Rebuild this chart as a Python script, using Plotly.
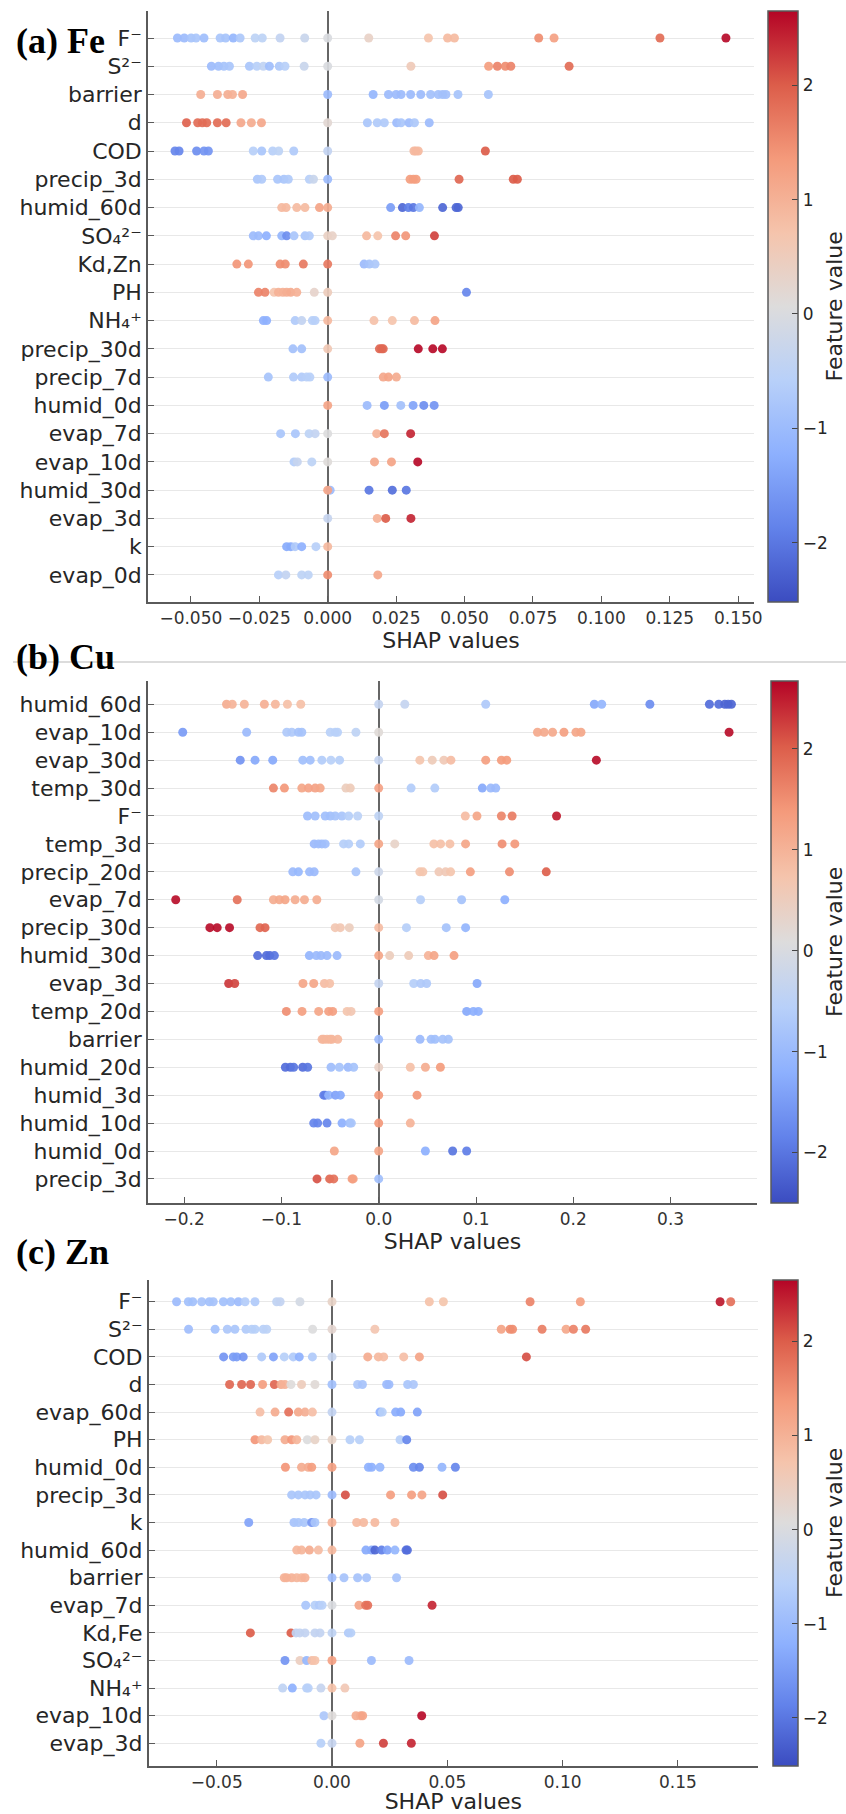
import plotly.graph_objects as go

fe_features = ["F⁻", "S²⁻", "barrier", "d", "COD", "precip_3d", "humid_60d", "SO₄²⁻", "Kd,Zn", "PH", "NH₄⁺",
               "precip_30d", "precip_7d", "humid_0d", "evap_7d", "evap_10d", "humid_30d", "evap_3d", "k", "evap_0d"]
fe_shap = [
    [-.0549,-.0524,-.0499,-.0481,-.0452,-.0393,-.0373,-.0345,-.0320,-.0265,-.0239,-.0174,-.0084,0,.0150,.0368,.0438,.0463,.0771,.0827,.1214,.1455],
    [-.0425,-.0399,-.0379,-.0359,-.0286,-.0259,-.0235,-.0213,-.0177,-.0156,-.0086,0,.0304,.0588,.0620,.0649,.0669,.0882],
    [-.0464,-.0403,-.0365,-.0348,-.0311,0,.0166,.0222,.0250,.0268,.0303,.0340,.0376,.0404,.0420,.0432,.0476,.0587],
    [-.0516,-.0475,-.0458,-.0442,-.0403,-.0371,-.0317,-.0279,-.0242,0,.0145,.0181,.0207,.0252,.0268,.0297,.0317,.0371],
    [-.0558,-.0543,-.0479,-.0452,-.0436,-.0272,-.0241,-.0201,-.0179,-.0124,0,.0315,.0322,.0331,.0576],
    [-.0257,-.0241,-.0183,-.0160,-.0144,-.0067,-.0052,0,.0301,.0313,.0323,.0480,.0678,.0693],
    [-.0168,-.0152,-.0113,-.0083,-.0030,0,.0230,.0273,.0295,.0313,.0335,.0420,.0469,.0477],
    [-.0272,-.0253,-.0224,-.0168,-.0150,-.0123,-.0083,-.0067,0,.0017,.0142,.0183,.0248,.0285,.0390],
    [-.0332,-.0290,-.0174,-.0155,-.0089,0,.0133,.0152,.0173],
    [-.0253,-.0229,-.0196,-.0180,-.0164,-.0150,-.0135,-.0113,-.0049,0,.0507],
    [-.0235,-.0223,-.0119,-.0095,-.0056,-.0046,0,.0169,.0236,.0317,.0392],
    [-.0127,-.0095,0,.0189,.0197,.0203,.0331,.0384,.0419],
    [-.0217,-.0125,-.0095,-.0077,-.0065,0,.0203,.0222,.0251],
    [0,.0144,.0207,.0267,.0312,.0351,.0389],
    [-.0172,-.0118,-.0068,-.0046,0,.0179,.0207,.0303],
    [-.0123,-.0111,-.0058,0,.0171,.0233,.0329],
    [.0009,0,.0151,.0236,.0287],
    [0,.0181,.0212,.0304],
    [-.0150,-.0135,-.0119,-.0095,-.0043,0],
    [-.0180,-.0153,-.0095,-.0071,0,.0183],
]
fe_value = [
    [-1,-1,-.85,-.8,-.95,-.8,-.85,-1.1,-.75,-.5,-.5,-.4,-.3,0,.35,.7,.85,.85,1.5,1.25,1.85,2.6],
    [-1,-.95,-.85,-.8,-.8,-.6,-.45,-.95,-.75,-.6,-.3,0,.55,1.3,1.6,1.5,1.6,1.85],
    [1.05,1.05,1.05,1,1.15,-1,-1.1,-1,-1,-1,-1,-1,-.9,-.9,-.9,-.9,-.85,-.85],
    [1.95,1.85,1.85,1.85,1.85,1.85,1.15,1.1,1.15,.2,-.8,-.7,-.7,-1,-.8,-1,-.75,-1],
    [-1.8,-1.8,-1.7,-1.6,-1.6,-.6,-.8,-.6,-.5,-.7,-.4,.9,.9,.9,2],
    [-.8,-.7,-.8,-.8,-.7,-.6,-.3,-1,1.3,1.3,1.3,1.9,2,2],
    [.9,.9,.85,.85,1.2,1.1,-1.5,-2.2,-1.9,-2,-1.1,-2.2,-2.2,-2.2],
    [-1,-1,-1.2,-1.1,-1.7,-.8,-.8,-.7,.4,.35,.9,.7,1.6,1.4,2.2],
    [1.4,1.4,1.5,1.5,1.7,1.7,-1,-.85,-.75],
    [1.6,1.6,.7,1,1,1.05,1.1,1,.3,.5,-1.8],
    [-1.2,-1.2,-.7,-.4,-.6,-.6,.9,.75,.7,.85,1.2],
    [-.9,-.9,.6,1.9,1.9,1.9,2.6,2.6,2.6],
    [-.85,-.7,-.7,-.6,-.6,-1,1.15,1.2,1.1],
    [1.2,-1,-1.5,-.9,-1.4,-1.7,-1.6],
    [-.8,-.8,-.5,-.4,.05,1,1.75,2.4],
    [-.65,-.35,-.5,.1,1.15,1.2,2.6],
    [-1,1.2,-2,-2.1,-2],
    [-.35,1,2,2.4],
    [-1.3,-1.3,-.7,-1.2,-.6,.9],
    [-.6,-.4,-.5,-.5,1.5,1.15],
]

cu_features = ["humid_60d", "evap_10d", "evap_30d", "temp_30d", "F⁻", "temp_3d", "precip_20d", "evap_7d", "precip_30d",
               "humid_30d", "evap_3d", "temp_20d", "barrier", "humid_20d", "humid_3d", "humid_10d", "humid_0d", "precip_3d"]
cu_shap = [
    [-.1564,-.1505,-.1381,-.1175,-.1062,-.0938,-.0801,0,.0268,.1100,.2216,.2292,.2787,.3399,.3495,.3557,.3591,.3625],
    [-.2014,-.1357,-.0945,-.0893,-.0825,-.0790,-.0498,-.0447,-.0423,-.0234,0,.1632,.1701,.1787,.1904,.2027,.2079,.3601],
    [-.1423,-.1271,-.1089,-.0780,-.0704,-.0584,-.0491,-.0402,0,.0423,.0550,.0670,.0742,.1100,.1261,.1316,.2237],
    [-.1082,-.0969,-.0790,-.0722,-.0653,-.0601,-.0337,-.0292,0,.0333,.0577,.1065,.1151,.1203],
    [-.0732,-.0653,-.0550,-.0498,-.0447,-.0378,-.0309,-.0216,0,.0890,.1010,.1261,.1371,.1828],
    [-.0663,-.0619,-.0584,-.0550,-.0361,-.0309,-.0189,0,.0165,.0567,.0636,.0732,.0893,.1268,.1399],
    [-.0883,-.0825,-.0711,-.0663,-.0234,0,.0423,.0454,.0619,.0687,.0739,.0942,.1344,.1722],
    [-.2086,-.1454,-.1082,-.1021,-.0962,-.0859,-.0763,-.0636,0,.0430,.0852,.1296],
    [-.1735,-.1660,-.1533,-.1220,-.1168,-.0447,-.0395,-.0302,0,.0285,.0694,.0893],
    [-.1244,-.1154,-.1120,-.1072,-.0713,-.0641,-.0593,-.0531,-.0428,0,.0113,.0308,.0510,.0569,.0774],
    [-.1542,-.1480,-.0778,-.0668,-.0558,-.0504,0,.0360,.0432,.0493,.1011],
    [-.0949,-.0788,-.0617,-.0514,-.0473,-.0325,-.0284,0,.0904,.0973,.1024],
    [-.0582,-.0565,-.0531,-.0500,-.0480,-.0421,0,.0425,.0538,.0579,.0658,.0716],
    [-.0959,-.0908,-.0874,-.0781,-.0730,-.0490,-.0404,-.0315,-.0257,0,.0325,.0480,.0634],
    [-.0565,-.0548,-.0514,-.0445,-.0394,0,.0394],
    [-.0668,-.0627,-.0531,-.0377,-.0298,-.0281,0,.0325],
    [-.0456,0,.0480,.0760,.0904],
    [-.0634,-.0504,-.0462,-.0274,-.0262,0],
]
cu_value = [
    [1.1,1,1,1.05,.95,.8,.8,-.35,-.35,-.7,-1.3,-1.1,-1.7,-2.1,-2.1,-2.2,-2.2,-2.2],
    [-1.5,-1,-.7,-.7,-.85,-.85,-.55,-.55,-.55,-.45,.15,1.15,1.15,1.15,1.3,1.2,1.2,2.6],
    [-1.6,-1.3,-1.3,-.9,-.9,-.65,-.55,-.6,-.35,.7,.55,.6,.85,1.3,1.35,1.35,2.6],
    [1.6,1.4,1.2,1.25,1.25,1.2,.5,.55,1.25,-.65,-.65,-1.3,-1,-1],
    [-.95,-.9,-.9,-.9,-.85,-.8,-.6,-.5,-.45,.85,1.2,1.6,1.7,2.5],
    [-1,-.95,-.95,-.9,-.6,-.6,-.65,1.2,.35,.8,.8,.8,1.2,1.5,1.4],
    [-1,-1.05,-1,-1,-.8,-.2,.7,.7,.6,.6,.7,1.3,1.5,2],
    [2.6,1.8,1.1,1.15,1.2,1.1,1.1,1.1,-.1,-.6,-.85,-1.2],
    [2.6,2.6,2.6,1.9,1.95,.65,.65,.5,.85,-.6,-.85,-1.1],
    [-2.1,-2.1,-2.1,-2,-1.1,-1,-1,-1,-1,1.2,.5,.55,1,1.2,1.3],
    [2.3,2.2,1.2,1.2,.85,.8,-.35,-.6,-.7,-.7,-1.3],
    [1.5,1.3,1.2,1.3,1.3,.7,.65,1.3,-1.3,-1.2,-1.2],
    [.95,.95,.95,.95,.95,.95,-1,-1,-.9,-.9,-.85,-.85],
    [-2.1,-2.1,-2,-2.1,-2,-.95,-.85,-1,-.85,.4,.8,1.1,1.35],
    [-1.9,-1.9,-1.1,-1.4,-1.3,1.4,1.4],
    [-1.8,-1.8,-1.8,-1.2,-.9,-.8,1.4,1],
    [1.2,1.2,-1.2,-2,-1.9],
    [2.1,1.9,1.8,1.3,1.3,-.9],
]

zn_features = ["F⁻", "S²⁻", "COD", "d", "evap_60d", "PH", "humid_0d", "precip_3d", "k", "humid_60d", "barrier",
               "evap_7d", "Kd,Fe", "SO₄²⁻", "NH₄⁺", "evap_10d", "evap_3d"]
zn_shap = [
    [-.0674,-.0623,-.0604,-.0565,-.0532,-.0515,-.0471,-.0439,-.0406,-.0377,-.0334,-.0240,-.0225,-.0139,0,.0422,.0483,.0859,.1077,.1683,.1729],
    [-.0622,-.0507,-.0454,-.0421,-.0373,-.0348,-.0334,-.0298,-.0283,-.0084,0,.0186,.0734,.0772,.0783,.0911,.1015,.1047,.1100],
    [-.0470,-.0428,-.0413,-.0385,-.0305,-.0254,-.0207,-.0168,-.0142,-.0085,0,.0155,.0201,.0224,.0311,.0379,.0843],
    [-.0444,-.0392,-.0353,-.0301,-.0250,-.0221,-.0204,-.0178,-.0132,-.0074,0,.0111,.0132,.0237,.0247,.0328,.0353],
    [-.0312,-.0247,-.0188,-.0146,-.0117,-.0085,0,.0208,.0218,.0276,.0298,.0370],
    [-.0334,-.0305,-.0279,-.0204,-.0175,-.0153,-.0107,-.0074,0,.0078,.0119,.0295,.0324],
    [-.0202,-.0132,-.0103,-.0088,0,.0158,.0172,.0208,.0353,.0379,.0477,.0535],
    [-.0175,-.0146,-.0117,-.0095,-.0069,0,.0058,.0254,.0345,.0390,.0480],
    [-.0361,-.0165,-.0146,-.0121,-.0088,-.0074,0,.0107,.0137,.0186,.0273],
    [-.0153,-.0132,-.0098,-.0059,0,.0147,.0172,.0186,.0215,.0240,.0273,.0321,.0327],
    [-.0207,-.0197,-.0175,-.0153,-.0132,-.0117,0,.0052,.0111,.0150,.0280],
    [-.0114,-.0074,-.0055,-.0043,0,.0117,.0146,.0155,.0434],
    [-.0354,-.0178,-.0156,-.0140,-.0117,-.0074,-.0052,0,.0071,.0082],
    [-.0204,-.0139,-.0110,-.0087,-.0074,0,.0171,.0334],
    [-.0214,-.0172,-.0110,-.0103,-.0048,0,.0056],
    [-.0035,0,.0104,.0124,.0133,.0389],
    [-.0048,0,.0121,.0223,.0344],
]
zn_value = [
    [-1,-.9,-.9,-.85,-.9,-.85,-.9,-.9,-1,-.65,-.7,-.45,-.4,-.1,.35,.75,.7,1.6,1.3,2.5,1.8],
    [-.95,-.9,-.75,-.8,-.7,-.6,-.6,-.55,-.5,.05,.25,.65,1.2,1.5,1.5,1.65,1.15,1.6,1.7],
    [-1.6,-1.5,-1.5,-1.6,-.7,-1.4,-.6,-.7,-1.2,-.7,-.35,1.1,.9,.85,.8,1.2,2.1],
    [1.9,1.9,1.9,1.3,1.9,1.1,1,.1,.5,.15,-.9,-.75,-.85,-1,-1,-.8,-.75],
    [.8,1.1,1.8,1.15,1.05,.8,-.4,-1.2,-.6,-1.25,-1.3,-1.4],
    [1.4,.9,.7,1.1,1.4,.95,.05,.35,.35,-.6,-.55,-.6,-1.8],
    [1.4,1.1,1.1,1.3,1.25,-1.2,-1.2,-1.1,-1.7,-1.8,-1.1,-1.8],
    [-.8,-.8,-.8,-.8,-.8,-1,2.1,1.3,1.3,1.2,2.1],
    [-1.4,-.85,-.8,-.8,-1.6,-.8,1,.9,.9,.9,.85],
    [.95,.95,1.1,.85,.9,-1.3,-1.3,-2.2,-1.9,-1.4,-1.1,-2.1,-2.1],
    [1,1,1,.95,.95,1,-.95,-.85,-.85,-.85,-.85],
    [-.8,-.6,-.7,-.55,0,1.2,1.75,1.8,2.4],
    [2,2,-.45,-.4,-.4,-.4,-.4,-.45,-.7,-.6],
    [-1.6,.45,-1.1,.8,.75,1.25,-1,-1],
    [-.45,-1.2,-.6,-.55,-.35,.75,.6],
    [-.75,.1,1.1,1.1,1.2,2.6],
    [-.6,-.35,1.2,2.2,2.4],
]

titles = ["(a) Fe", "(b) Cu", "(c) Zn"]
x_title = "SHAP values"
cbar_title = "Feature value"
coolwarm = [[0, "#3b4cc0"], [.125, "#6282ea"], [.25, "#8db0fe"], [.375, "#b8d0f9"], [.5, "#dddcdc"],
            [.625, "#f5c4ac"], [.75, "#f49a7b"], [.875, "#dc5d4a"], [1, "#b40426"]]

W, H = 846, 1814
panels = [
    dict(f=fe_features, s=fe_shap, v=fe_value, l=148, r=754, t=11, b=602, y0=38, dy=28.26, x0=327.7, k=2737,
         ticks=[-.05,-.025,0,.025,.05,.075,.1,.125,.15], fmt=".3f", cb=(768, 798), cr=(-2.52, 2.65),
         tx=(15, 53)),
    dict(f=cu_features, s=cu_shap, v=cu_value, l=148, r=757, t=681, b=1203, y0=704.3, dy=27.92, x0=378.7, k=973,
         ticks=[-.2,-.1,0,.1,.2,.3], fmt=".1f", cb=(771, 798), cr=(-2.5, 2.67), tx=(15, 669)),
    dict(f=zn_features, s=zn_shap, v=zn_value, l=148.7, r=758, t=1280, b=1766, y0=1301.7, dy=27.6, x0=332, k=2306,
         ticks=[-.05,0,.05,.1,.15], fmt=".2f", cb=(773, 798), cr=(-2.51, 2.65), tx=(15, 1264)),
]

TXT = "#262626"
GREY = "#5a5a5a"
fig = go.Figure()
layout = dict(width=W, height=H, margin=dict(l=0, r=0, t=0, b=0, autoexpand=False), paper_bgcolor="white",
              plot_bgcolor="white", font=dict(family="DejaVu Sans", color=TXT), showlegend=False, autosize=False)
annotations, shapes = [], []

for i, p in enumerate(panels):
    n = str(i + 1) if i else ""
    xs, ys, cs, labels = [], [], [], []
    for row, (sv, fv) in enumerate(zip(p["s"], p["v"])):
        if len(sv) != len(fv):
            raise ValueError(f"panel {i} row {row}: {len(sv)} != {len(fv)}")
        xs += sv
        ys += [row] * len(sv)
        cs += fv
        labels += [p["f"][row]] * len(sv)
    fig.add_trace(go.Scatter(x=xs, y=ys, mode="markers", xaxis="x" + n, yaxis="y" + n, text=labels,
                             marker=dict(size=9, color=cs, coloraxis="coloraxis" + n, opacity=.92,
                                         line=dict(width=0)),
                             hovertemplate="%{text}<br>SHAP %{x}<br>Feature value %{marker.color}<extra></extra>"))
    layout["xaxis" + n] = dict(
        domain=[p["l"] / W, p["r"] / W], anchor="y" + n,
        range=[(p["l"] - p["x0"]) / p["k"], (p["r"] - p["x0"]) / p["k"]],
        tickvals=p["ticks"], tickformat=p["fmt"], ticks="inside", ticklen=6, tickwidth=1.2, tickcolor=GREY,
        tickfont=dict(size=17, color="#333"), showgrid=False, showline=True, linecolor=GREY, linewidth=1.6,
        zeroline=True, zerolinecolor="#666666", zerolinewidth=2.2,
        title=dict(text=x_title, font=dict(size=22, color=TXT), standoff=1),
    )
    layout["yaxis" + n] = dict(
        domain=[1 - p["b"] / H, 1 - p["t"] / H], anchor="x" + n,
        range=[(p["b"] - p["y0"]) / p["dy"], (p["t"] - p["y0"]) / p["dy"]],
        tickvals=list(range(len(p["f"]))), ticktext=p["f"], ticks="inside", ticklen=6, tickwidth=1.2, tickcolor=GREY,
        tickfont=dict(size=22, color=TXT), showgrid=True, gridcolor="#e8e8e8", gridwidth=1.4,
        showline=True, linecolor=GREY, linewidth=1.6, zeroline=False,
    )
    layout["coloraxis" + n] = dict(
        colorscale=coolwarm, cmin=p["cr"][0], cmax=p["cr"][1],
        colorbar=dict(
            x=p["cb"][0] / W, xanchor="left", xpad=0, ypad=0, y=1 - p["t"] / H, yanchor="top",
            len=(p["b"] - p["t"]) / H, lenmode="fraction", thickness=p["cb"][1] - p["cb"][0], thicknessmode="pixels",
            outlinecolor=GREY, outlinewidth=1.5, tickvals=[-2, -1, 0, 1, 2], ticks="inside", ticklen=6,
            tickwidth=1.2, tickcolor="#444", tickfont=dict(size=17, color=TXT), ticklabelposition="outside",
        ),
    )
    annotations.append(dict(text="<b>%s</b>" % titles[i], xref="paper", yref="paper", x=p["tx"][0] / W,
                            y=1 - (p["tx"][1] + 9) / H, xanchor="left", yanchor="bottom", showarrow=False,
                            borderpad=0, font=dict(family="Liberation Serif", size=36, color="#000")))
    annotations.append(dict(text=cbar_title, xref="paper", yref="paper", x=834 / W, y=1 - (p["t"] + p["b"]) / 2 / H,
                            xanchor="center", yanchor="middle", textangle=-90, showarrow=False, borderpad=0,
                            font=dict(size=22, color=TXT)))

shapes.append(dict(type="line", xref="paper", yref="paper", x0=13 / W, x1=1, y0=1 - 662 / H, y1=1 - 662 / H,
                   line=dict(color="#dcdcdc", width=2), layer="below"))
layout["annotations"] = annotations
layout["shapes"] = shapes
fig.update_layout(**layout)
fig.write_html("out.html", config=dict(displayModeBar=False),
               post_script="document.body.style.margin='0';document.documentElement.style.overflow='hidden';")
